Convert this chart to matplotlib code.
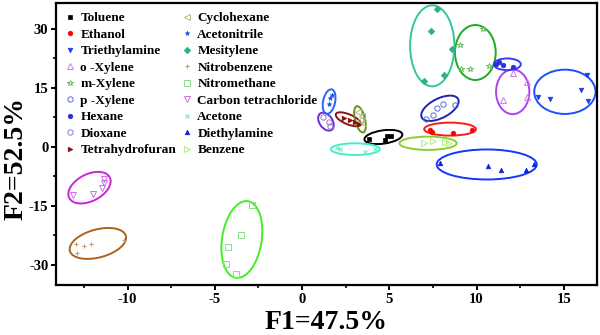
import matplotlib
matplotlib.use("Agg")
import matplotlib.pyplot as plt
from matplotlib.patches import Ellipse
from matplotlib.transforms import Affine2D, ScaledTranslation
from matplotlib.ticker import MultipleLocator

plt.rcParams['font.family'] = ['Liberation Serif', 'DejaVu Serif']
plt.rcParams['font.weight'] = 'bold'
plt.rcParams['axes.unicode_minus'] = False

solvents = ["Toluene", "Ethanol", "Triethylamine", "o -Xylene", "m-Xylene", "p -Xylene",
            "Hexane", "Dioxane", "Tetrahydrofuran", "Cyclohexane", "Acetonitrile",
            "Mesitylene", "Nitrobenzene", "Nitromethane", "Carbon tetrachloride",
            "Acetone", "Diethylamine", "Benzene"]

f1_toluene = [3.85, 4.75, 4.87, 5.09]
f2_toluene = [2.1, 1.8, 2.7, 2.7]
f1_ethanol = [7.33, 7.42, 8.65, 9.76]
f2_ethanol = [4.2, 3.8, 3.5, 4.2]
f1_triethylamine = [13.54, 14.2, 15.98, 16.3, 16.4]
f2_triethylamine = [12.6, 12.1, 14.4, 18.2, 11.7]
f1_oxylene = [11.53, 12.87, 12.87, 12.07]
f2_oxylene = [11.8, 12.7, 16.4, 18.7]
f1_mxylene = [10.38, 9.05, 9.09, 9.64, 10.71]
f2_mxylene = [29.9, 25.9, 19.7, 19.8, 20.6]
f1_pxylene = [7.10, 7.50, 7.71, 8.05, 8.76]
f2_pxylene = [7.2, 8.2, 9.8, 10.9, 10.6]
f1_hexane = [11.1, 11.3, 11.5, 12.07]
f2_hexane = [21.2, 21.5, 20.7, 20.2]
f1_dioxane = [1.22, 1.56, 1.60]
f2_dioxane = [7.5, 6.3, 5.2]
f1_thf = [2.43, 2.72, 3.05, 3.25]
f2_thf = [7.4, 6.9, 6.3, 5.9]
f1_cyclohexane = [3.23, 3.42, 3.32, 3.5]
f2_cyclohexane = [8.9, 7.8, 6.7, 6.0]
f1_acetonitrile = [1.7, 1.62, 1.56]
f2_acetonitrile = [13.2, 12.5, 10.9]
f1_mesitylene = [7.75, 7.37, 8.60, 8.15, 6.98]
f2_mesitylene = [35.1, 29.5, 25.0, 18.2, 16.7]
f1_nitrobenzene = [-12.94, -12.48, -12.09, -12.9, -10.23]
f2_nitrobenzene = [-24.8, -25.3, -24.8, -27.0, -23.7]
f1_nitromethane = [-2.88, -3.49, -4.22, -4.36, -3.76]
f2_nitromethane = [-14.9, -22.5, -25.6, -29.9, -32.5]
f1_ccl4 = [-13.12, -12.0, -11.47, -11.36, -11.36]
f2_ccl4 = [-12.3, -12.0, -10.4, -9.1, -8.3]
f1_acetone = [2.0, 2.18, 3.63, 4.19]
f2_acetone = [-0.3, -0.5, -1.2, -0.6]
f1_diethylamine = [7.92, 10.67, 11.41, 12.85, 13.27]
f2_diethylamine = [-4.2, -4.85, -5.9, -5.9, -4.4]
f1_benzene = [7.0, 7.5, 8.19, 8.43]
f2_benzene = [0.95, 1.6, 1.2, 1.0]

f1_all = [f1_toluene, f1_ethanol, f1_triethylamine, f1_oxylene, f1_mxylene, f1_pxylene,
          f1_hexane, f1_dioxane, f1_thf, f1_cyclohexane, f1_acetonitrile, f1_mesitylene,
          f1_nitrobenzene, f1_nitromethane, f1_ccl4, f1_acetone, f1_diethylamine, f1_benzene]
f2_all = [f2_toluene, f2_ethanol, f2_triethylamine, f2_oxylene, f2_mxylene, f2_pxylene,
          f2_hexane, f2_dioxane, f2_thf, f2_cyclohexane, f2_acetonitrile, f2_mesitylene,
          f2_nitrobenzene, f2_nitromethane, f2_ccl4, f2_acetone, f2_diethylamine, f2_benzene]

# cluster ellipses: centre (F1, F2), size in points, tilt in degrees
ell_f1 = [4.66, 8.48, 15.06, 12.07, 9.93, 7.90, 11.76, 1.37, 2.65, 3.32, 1.55, 7.46,
          -11.70, -3.45, -12.18, 3.05, 10.58, 7.22]
ell_f2 = [2.5, 4.5, 14.0, 14.0, 24.0, 9.8, 21.0, 6.4, 7.0, 7.0, 11.5, 25.7,
          -24.6, -23.6, -10.4, -0.6, -4.5, 0.9]
ell_w = [38.3, 51.7, 61.3, 33.3, 40.7, 40.8, 27.0, 20.0, 27.0, 27.0, 25.0, 44.3,
         58.0, 77.6, 45.5, 49.0, 100.0, 57.3]
ell_h = [13.3, 13.0, 44.3, 44.7, 55.0, 19.5, 11.7, 13.0, 10.0, 10.0, 12.0, 81.0,
         28.0, 39.6, 26.9, 11.7, 30.0, 13.3]
ell_ang = [8, 0, 0, 0, 0, 27, 0, -55, -23, 104, 78, 0, 15, 81, 27, 0, 0, 0]

markers = ['s', 'o', 'v', '^', '*', 'o', 'o', 'o', '>', '<', '*', 'D', '+', 's', 'v', 'x', '^', '>']
mcolors = ['#000000', '#ff0000', '#1a3cf0', '#c77ff0', '#66bb66', '#5a6be0', '#2c2ce8',
           '#9a70d8', '#8b0a0a', '#a8c070', '#1e50f0', '#2fb07c', '#c89a70', '#88dd88',
           '#cc70dd', '#70e8cc', '#0a1ee8', '#b0ee80']
filled = [True, True, True, False, False, False, True, False, True, False, True, True,
          True, False, False, True, True, False]
ecolors = ['#000000', '#ff1a1a', '#1a50ff', '#b040f0', '#20aa20', '#1a28a8', '#3a3aff',
           '#6a30d0', '#8b1414', '#6b8e23', '#2266ff', '#35c59a', '#a8641e', '#44ee22',
           '#cc22dd', '#44eecc', '#1436ff', '#88d030']

fig = plt.figure(figsize=(6.0, 3.35), dpi=100)
ax = fig.add_axes([0.0933, 0.149, 0.9017, 0.842])
ax.set_xlim(-14.1, 16.9)
ax.set_ylim(-35.2, 36.6)

for i, name in enumerate(solvents):
    m = markers[i]
    c = mcolors[i]
    if m in ('+', 'x'):
        ax.plot(f1_all[i], f2_all[i], linestyle='none', marker=m, ms=3.5, mew=0.8,
                color=c, label=name)
    elif filled[i]:
        ax.plot(f1_all[i], f2_all[i], linestyle='none', marker=m, ms=3.3, mew=0.5,
                color=c, mfc=c, mec=c, label=name)
    else:
        ax.plot(f1_all[i], f2_all[i], linestyle='none', marker=m, ms=3.8, mew=0.7,
                color=c, mfc='none', mec=c, label=name)
    tr = (Affine2D().scale(0.72 / 72.0) + fig.dpi_scale_trans +
          ScaledTranslation(ell_f1[i], ell_f2[i], ax.transData))
    e = Ellipse((0, 0), ell_w[i], ell_h[i], angle=ell_ang[i], fill=False,
                edgecolor=ecolors[i], lw=1.4, transform=tr)
    ax.add_patch(e)

ax.xaxis.set_major_locator(MultipleLocator(5))
ax.xaxis.set_minor_locator(MultipleLocator(2.5))
ax.yaxis.set_major_locator(MultipleLocator(15))
ax.yaxis.set_minor_locator(MultipleLocator(7.5))
ax.tick_params(which='major', direction='out', length=3.5, width=1.4, labelsize=10.5, pad=2)
ax.tick_params(which='minor', direction='out', length=2.5, width=1.2)
for sp in ax.spines.values():
    sp.set_linewidth(1.6)
for lab in ax.get_xticklabels() + ax.get_yticklabels():
    lab.set_fontweight('bold')

ax.set_xlabel('F1=47.5%', fontsize=20, fontweight='bold', labelpad=3)
ax.set_ylabel('F2=52.5%', fontsize=20, fontweight='bold', va='center', ha='center')
ax.yaxis.set_label_coords(-0.074, 0.45)

leg = ax.legend(loc='upper left', bbox_to_anchor=(0.0, 1.0), ncol=2, frameon=False,
                handlelength=0.8, handletextpad=0.35, columnspacing=0.45,
                labelspacing=0.32, borderaxespad=0.3, prop={'weight': 'bold', 'size': 9.5})

fig.savefig('out.png', dpi=100)
